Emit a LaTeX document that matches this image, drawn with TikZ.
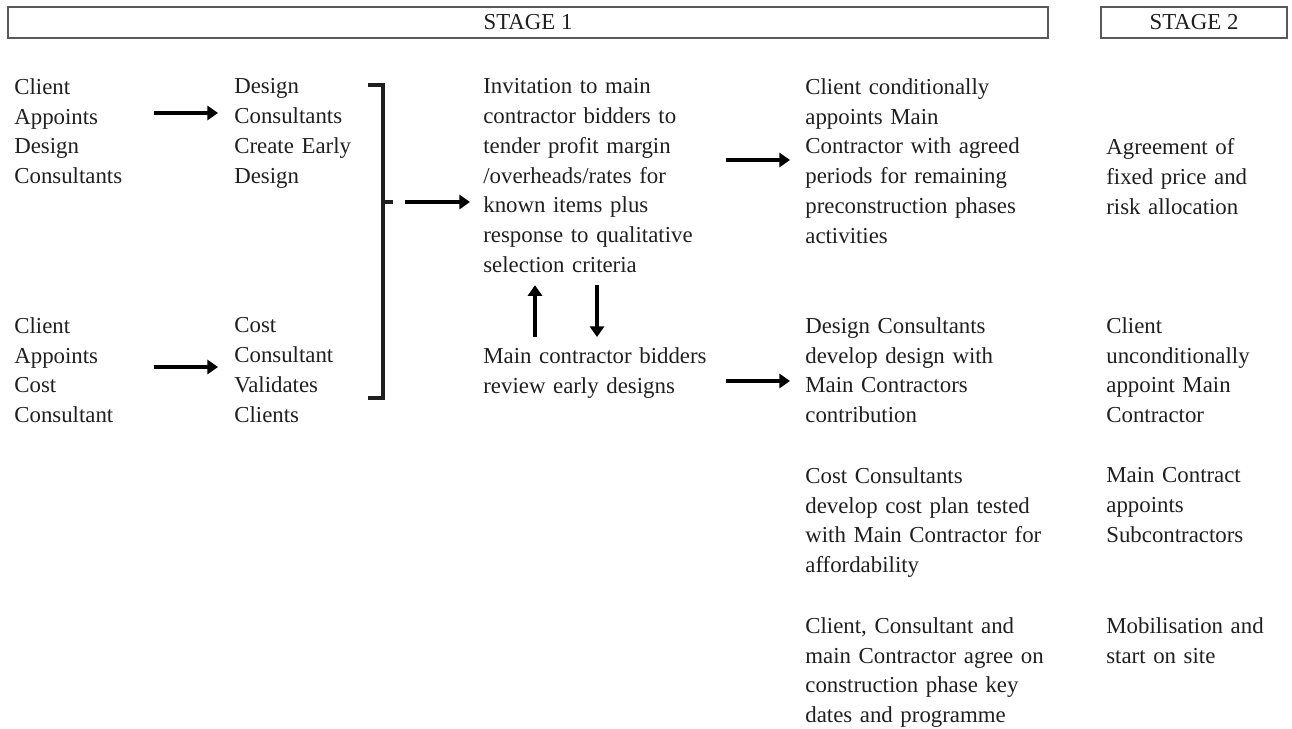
\documentclass[tikz,border=0pt]{standalone}
\usepackage{fontspec}
\setmainfont{Liberation Serif}
\usetikzlibrary{arrows.meta,positioning}
\tikzset{
	txt/.style={anchor=north west, inner sep=0pt, align=left, text=black!88, font=\fontsize{13}{17}\selectfont},
	stagebox/.style={draw=black!65, line width=1.1pt, inner sep=0pt, minimum height=0.62cm, text=black!88, font=\fontsize{13}{17}\selectfont},
	bigarrow/.style={line width=2.6pt, -{Triangle[length=6pt,width=8pt]}},
}
\begin{document}
\begin{tikzpicture}[x=0.02cm, y=-0.02cm]
		\useasboundingbox (0,0) rectangle (1292,729);
		\node[stagebox, minimum width=20.8cm] (stageone) at (528,22.5) {STAGE 1};
		\node[stagebox, minimum width=3.72cm] (stagetwo) at (1194,22.5) {STAGE 2};
		\node[txt, text width=2.4cm] (cad) at (14,78) {Client\\Appoints\\Design\\Consultants};
		\node[txt, text width=2.4cm] (cac) at (14,317) {Client\\Appoints\\Cost\\Consultant};
		\node[txt, text width=2.4cm] (dcc) at (234,78) {Design\\Consultants\\Create Early\\Design};
		\node[txt, text width=2.4cm] (ccv) at (234,317) {Cost\\Consultant\\Validates\\Clients};
		\node[txt, text width=4.6cm] (inv) at (483,78) {Invitation to main\\contractor bidders to\\tender profit margin\\/overheads/rates for\\known items plus\\response to qualitative\\selection criteria};
		\node[txt, text width=4.6cm] (rev) at (483,347) {Main contractor bidders\\review early designs};
		\node[txt, text width=4.8cm] (ccm) at (805,78) {Client conditionally\\appoints Main\\Contractor with agreed\\periods for remaining\\preconstruction phases\\activities};
		\node[txt, text width=4.8cm] (dcd) at (805,317) {Design Consultants\\develop design with\\Main Contractors\\contribution};
		\node[txt, text width=4.8cm] (ccp) at (805,467) {Cost Consultants\\develop cost plan tested\\with Main Contractor for\\affordability};
		\node[txt, text width=4.8cm] (cca) at (805,617) {Client, Consultant and\\main Contractor agree on\\construction phase key\\dates and programme};
		\node[txt, text width=3.4cm] (afp) at (1106,138) {Agreement of\\fixed price and\\risk allocation};
		\node[txt, text width=3.4cm] (cua) at (1106,317) {Client\\unconditionally\\appoint Main\\Contractor};
		\node[txt, text width=3.4cm] (mcs) at (1106,467) {Main Contract\\appoints\\Subcontractors};
		\node[txt, text width=3.4cm] (mob) at (1106,617) {Mobilisation and\\start on site};
		% bracket
		\coordinate (brmid) at (383,202);
		\draw[line width=2pt, black!88] (368,85) -- (383,85) -- (383,398) -- (368,398);
		\draw[line width=2pt, black!88] (brmid) -- ++(10,0);
		% arrows
		\draw[bigarrow, shorten <=0.38cm, shorten >=0.32cm] (cad.east |- 0,113) -- (dcc.west |- 0,113);
		\draw[bigarrow, shorten <=0.38cm, shorten >=0.32cm] (cac.east |- 0,367) -- (ccv.west |- 0,367);
		\draw[bigarrow, shorten <=0.44cm, shorten >=0.26cm] (brmid) -- (inv.west |- brmid);
		\draw[bigarrow, shorten <=0.24cm, shorten >=0.3cm] (inv.east |- 0,160) -- (ccm.west |- 0,160);
		\draw[bigarrow, shorten <=0.24cm, shorten >=0.3cm] (rev.east |- 0,381) -- (dcd.west |- 0,381);
		\draw[bigarrow, shorten <=0.2cm, shorten >=0.24cm] (rev.north -| 535,0) -- (inv.south -| 535,0);
		\draw[bigarrow, shorten <=0.24cm, shorten >=0.2cm] (inv.south -| 597,0) -- (rev.north -| 597,0);
\end{tikzpicture}
\end{document}
